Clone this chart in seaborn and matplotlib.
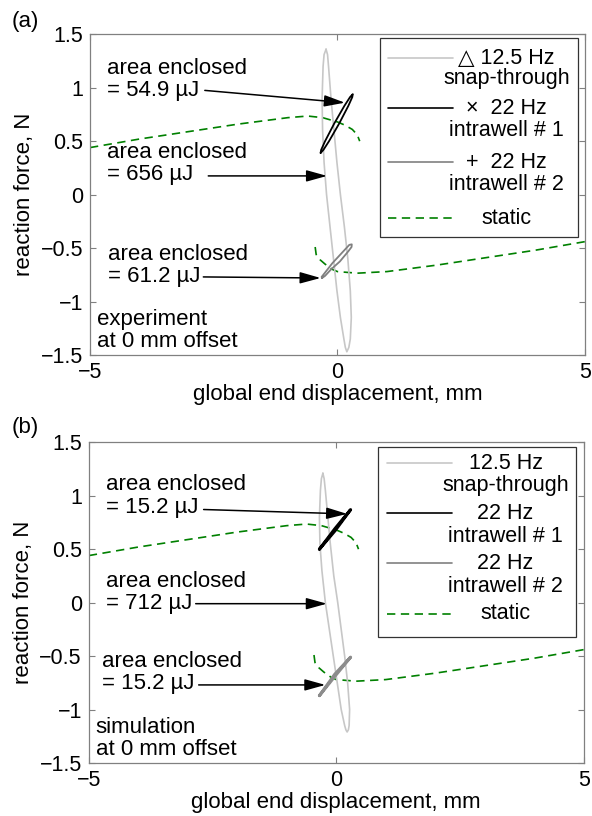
import numpy as np
import pandas as pd
import matplotlib
matplotlib.use('Agg')
import matplotlib.pyplot as plt
import seaborn as sns
from matplotlib.patches import Rectangle
from matplotlib.patches import ArrowStyle

# ---- data ----
x_ticks = [-5, 0, 5]
x_ticklabels = ['\u22125', '0', '5']
y_ticks = [-1.5, -1, -0.5, 0, 0.5, 1, 1.5]
y_ticklabels = ['\u22121.5', '\u22121', '\u22120.5', '0', '0.5', '1', '1.5']

# static curve (same in both panels), two branches
static_up_x = [-5, -4, -3, -2, -1, -0.6, -0.3, 0, 0.15, 0.3, 0.4, 0.45]
static_up_y = [0.44, 0.52, 0.59, 0.66, 0.72, 0.735, 0.72, 0.68, 0.65, 0.61, 0.56, 0.50]
static_lo_x = [-0.45, -0.43, -0.35, -0.25, -0.1, 0, 0.4, 1, 2, 3, 4, 5]
static_lo_y = [-0.49, -0.56, -0.61, -0.65, -0.70, -0.72, -0.735, -0.72, -0.66, -0.59, -0.52, -0.44]

# (a) experiment loops
exp_snap_x = [-0.23, -0.20, -0.18, -0.13, -0.07, -0.01, 0.06, 0.14, 0.21, 0.26, 0.28, 0.26, 0.23, 0.19,
              0.16, 0.13, 0.06, -0.01, -0.08, -0.15, -0.22, -0.27, -0.30, -0.31, -0.29, -0.27, -0.23]
exp_snap_y = [1.36, 1.31, 1.2, 0.9, 0.6, 0.3, 0.0, -0.3, -0.6, -0.9, -1.15, -1.35, -1.43, -1.47,
              -1.43, -1.35, -1.15, -0.9, -0.6, -0.3, 0.0, 0.3, 0.6, 0.9, 1.2, 1.31, 1.36]
exp_iw1_x = [-0.34, -0.285, -0.17, 0.035, 0.22, 0.30, 0.31, 0.255, 0.14, -0.065, -0.25, -0.33, -0.34]
exp_iw1_y = [0.39, 0.4175, 0.5, 0.665, 0.83, 0.9125, 0.94, 0.9125, 0.83, 0.665, 0.5, 0.4175, 0.39]
exp_iw2_x = [-0.31, -0.25, -0.13, 0.05, 0.22, 0.285, 0.29, 0.24, 0.08, -0.10, -0.26, -0.32, -0.31]
exp_iw2_y = [-0.78, -0.76, -0.70, -0.625, -0.53, -0.49, -0.465, -0.47, -0.55, -0.64, -0.735, -0.77, -0.78]

# (b) simulation loops
sim_snap_x = [-0.27, -0.245, -0.22, -0.17, -0.12, -0.05, 0.03, 0.10, 0.17, 0.23, 0.27, 0.26, 0.245, 0.22,
              0.195, 0.17, 0.10, 0.02, -0.06, -0.14, -0.22, -0.29, -0.33, -0.34, -0.32, -0.30, -0.27]
sim_snap_y = [1.21, 1.16, 1.05, 0.8, 0.55, 0.25, 0.0, -0.25, -0.5, -0.75, -1.0, -1.15, -1.19, -1.21,
              -1.19, -1.15, -1.0, -0.75, -0.5, -0.25, 0.0, 0.3, 0.55, 0.8, 1.05, 1.16, 1.21]
sim_iw1_x = [-0.34, -0.02, 0.29, -0.03, -0.34]
sim_iw1_y = [0.50, 0.675, 0.87, 0.69, 0.50]
sim_iw2_x = [-0.34, -0.02, 0.29, -0.03, -0.34]
sim_iw2_y = [-0.87, -0.685, -0.51, -0.67, -0.87]

# annotations: label text, text position, arrow tail, arrow tip
exp_notes = ['area enclosed\n= 54.9 \u00b5J', 'area enclosed\n= 656 \u00b5J', 'area enclosed\n= 61.2 \u00b5J']
exp_note_xy = [(-4.66, 1.08), (-4.66, 0.29), (-4.64, -0.66)]
exp_tail = [(-2.68, 0.975), (-2.61, 0.175), (-2.71, -0.77)]
exp_tip = [(0.15, 0.86), (-0.21, 0.175), (-0.34, -0.78)]

sim_notes = ['area enclosed\n= 15.2 \u00b5J', 'area enclosed\n= 712 \u00b5J', 'area enclosed\n= 15.2 \u00b5J']
sim_note_xy = [(-4.66, 0.997), (-4.66, 0.098), (-4.73, -0.654)]
sim_tail = [(-2.68, 0.871), (-2.84, -0.01), (-2.78, -0.77)]
sim_tip = [(0.22, 0.83), (-0.19, -0.01), (-0.22, -0.77)]

exp_legend_first = ['\u25b3 12.5 Hz', '\u00d7  22 Hz', '+  22 Hz', 'static']
sim_legend_first = ['12.5 Hz', '22 Hz', '22 Hz', 'static']
legend_second = ['snap-through', 'intrawell # 1', 'intrawell # 2', None]

# ---- style ----
sns.set_style('ticks')
plt.rcParams['font.family'] = ['Liberation Sans', 'DejaVu Sans']
plt.rcParams['axes.unicode_minus'] = True
plt.rcParams['text.color'] = 'black'
plt.rcParams['axes.labelcolor'] = 'black'
plt.rcParams['xtick.labelcolor'] = 'black'
plt.rcParams['ytick.labelcolor'] = 'black'

snap_col = (0.78, 0.78, 0.78)
iw1_col = 'black'
iw2_col = (0.5, 0.5, 0.5)
static_col = (0.0, 0.5, 0.0)
FS = 16

fig = plt.figure(figsize=(5.92, 8.16), dpi=100)
ax_a = fig.add_axes([0.152, 0.565, 0.836, 0.393])
ax_b = fig.add_axes([0.150, 0.065, 0.836, 0.393])


def draw_static(ax):
    for sx, sy in [(static_up_x, static_up_y), (static_lo_x, static_lo_y)]:
        sns.lineplot(x=sx, y=sy, sort=False, estimator=None, color=static_col,
                     linewidth=1.2, ax=ax)
        ax.lines[-1].set_dashes([5, 3.3])


def draw_loop(ax, lx, ly, col, lw):
    sns.lineplot(x=lx, y=ly, sort=False, estimator=None, color=col, linewidth=lw, ax=ax)


def draw_legend(ax, first, rows, rows2, box):
    x0, y0, x1, y1 = box
    ax.add_patch(Rectangle((x0, y0), x1 - x0, y1 - y0, transform=ax.transAxes,
                           facecolor='white', edgecolor='0.2', linewidth=0.9, zorder=5))
    cols = [snap_col, iw1_col, iw2_col, static_col]
    for i, c in enumerate(cols):
        ln, = ax.plot([0.602, 0.733], [rows[i], rows[i]], transform=ax.transAxes,
                      color=c, linewidth=1.2, zorder=6)
        if i == 3:
            ln.set_dashes([5, 3.3])
        ax.text(0.842, rows[i], first[i], transform=ax.transAxes, ha='center',
                va='center', fontsize=15.5, zorder=6)
        if legend_second[i]:
            ax.text(0.842, rows2[i], legend_second[i], transform=ax.transAxes,
                    ha='center', va='center', fontsize=15.5, zorder=6)


def finish(ax, notes, note_xy, tails, tips, caption):
    for t, (tx, ty), tail, tip in zip(notes, note_xy, tails, tips):
        ax.text(tx, ty, t, ha='left', va='center', fontsize=FS, linespacing=1.08)
        ax.annotate('', xy=tip, xytext=tail,
                    arrowprops=dict(arrowstyle=ArrowStyle('-|>', head_length=0.9, head_width=0.25),
                                    color='black', lw=1.1, shrinkA=0, shrinkB=0,
                                    mutation_scale=14))
    ax.text(-4.86, -1.27, caption, ha='left', va='center', fontsize=FS, linespacing=1.08)
    ax.set_xlim(-5, 5)
    ax.set_ylim(-1.5, 1.5)
    ax.set_xticks(x_ticks)
    ax.set_xticklabels(x_ticklabels)
    ax.set_yticks(y_ticks)
    ax.set_yticklabels(y_ticklabels)
    ax.tick_params(direction='in', top=True, right=True, length=4, width=0.8,
                   color='0.5', labelsize=15.5, pad=5)
    for sp in ax.spines.values():
        sp.set_color('0.5')
        sp.set_linewidth(0.9)
    ax.set_xlabel('global end displacement, mm', fontsize=FS, labelpad=1)
    ax.set_ylabel('reaction force, N', fontsize=FS, labelpad=4)


# (a) experiment
draw_static(ax_a)
draw_loop(ax_a, exp_snap_x, exp_snap_y, snap_col, 1.2)
draw_loop(ax_a, exp_iw1_x, exp_iw1_y, iw1_col, 1.3)
draw_loop(ax_a, exp_iw2_x, exp_iw2_y, iw2_col, 1.3)
finish(ax_a, exp_notes, exp_note_xy, exp_tail, exp_tip, 'experiment\nat 0 mm offset')
draw_legend(ax_a, exp_legend_first, [0.925, 0.770, 0.601, 0.427], [0.863, 0.701, 0.530, None],
            (0.587, 0.368, 0.986, 0.988))

# (b) simulation
draw_static(ax_b)
draw_loop(ax_b, sim_snap_x, sim_snap_y, snap_col, 1.2)
draw_loop(ax_b, sim_iw1_x, sim_iw1_y, iw1_col, 2.2)
draw_loop(ax_b, sim_iw2_x, sim_iw2_y, (0.55, 0.55, 0.55), 2.2)
finish(ax_b, sim_notes, sim_note_xy, sim_tail, sim_tip, 'simulation\nat 0 mm offset')
draw_legend(ax_b, sim_legend_first, [0.934, 0.778, 0.622, 0.466], [0.866, 0.705, 0.549, None],
            (0.585, 0.392, 0.984, 0.985))

fig.text(25 / 592, 1 - 22 / 816, '(a)', ha='center', va='center', fontsize=FS)
fig.text(25 / 592, 1 - 428 / 816, '(b)', ha='center', va='center', fontsize=FS)

fig.savefig('out.png', dpi=100)
